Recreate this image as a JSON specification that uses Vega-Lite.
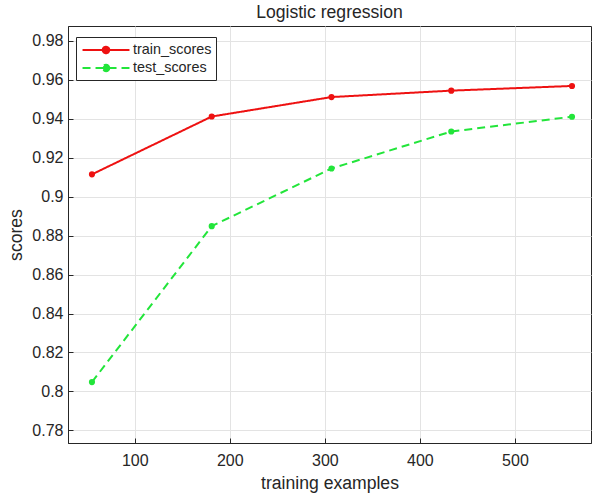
{
  "$schema": "https://vega.github.io/schema/vega-lite/v6.json",
  "autosize": {"type": "none"},
  "padding": {"left": 68, "top": 26, "right": 2, "bottom": 52},
  "width": 523,
  "height": 417,
  "title": {"text": "Logistic regression", "fontSize": 17.6, "fontWeight": "normal", "font": "Liberation Sans", "color": "#262626", "offset": 4},
  "config": {
    "font": "Liberation Sans",
    "view": {"stroke": "#262626", "strokeWidth": 1},
    "axis": {
      "labelFont": "Liberation Sans", "labelFontSize": 16, "labelColor": "#262626",
      "titleFont": "Liberation Sans", "titleFontSize": 17.6, "titleFontWeight": "normal", "titleColor": "#262626",
      "domainColor": "#262626", "tickColor": "#262626", "gridColor": "#e3e3e3", "gridOpacity": 1
    }
  },
  "data": {"values": [
    {"n": 55, "score": 0.9115, "series": "train_scores"},
    {"n": 181, "score": 0.9412, "series": "train_scores"},
    {"n": 307, "score": 0.9512, "series": "train_scores"},
    {"n": 433, "score": 0.9545, "series": "train_scores"},
    {"n": 560, "score": 0.9569, "series": "train_scores"},
    {"n": 55, "score": 0.8048, "series": "test_scores"},
    {"n": 181, "score": 0.8849, "series": "test_scores"},
    {"n": 307, "score": 0.9145, "series": "test_scores"},
    {"n": 433, "score": 0.9335, "series": "test_scores"},
    {"n": 560, "score": 0.9411, "series": "test_scores"}
  ]},
  "layer": [
    {
      "mark": {"type": "line", "strokeWidth": 2, "point": {"filled": true, "size": 38}},
      "encoding": {
        "x": {"field": "n", "type": "quantitative", "title": "training examples",
          "scale": {"domain": [29.8, 580], "nice": false, "zero": false},
          "axis": {"values": [100, 200, 300, 400, 500], "tickSize": -5, "labelPadding": 14, "titlePadding": 6, "grid": true}},
        "y": {"field": "score", "type": "quantitative", "title": "scores",
          "scale": {"domain": [0.7735, 0.9877], "nice": false, "zero": false},
          "axis": {"values": [0.78, 0.8, 0.82, 0.84, 0.86, 0.88, 0.9, 0.92, 0.94, 0.96, 0.98], "format": ".2~f", "tickSize": -5, "labelPadding": 10, "titlePadding": 6, "grid": true}},
        "color": {"field": "series", "type": "nominal", "title": null,
          "scale": {"domain": ["train_scores", "test_scores"], "range": ["#ee1111", "#22e53a"]},
          "legend": {"orient": "none", "legendX": 8, "legendY": 11, "strokeColor": "#262626", "fillColor": "white",
            "padding": 4, "symbolType": "M-3,0H3M0.42,0A0.42,0.42 0 1,1 -0.42,0A0.42,0.42 0 1,1 0.42,0",
            "symbolSize": 245, "symbolOffset": 17, "symbolStrokeWidth": 2, "labelFontSize": 14.4, "labelFont": "Liberation Sans", "labelColor": "#262626",
            "rowPadding": 1, "labelOffset": 18, "cornerRadius": 0}},
        "strokeDash": {"field": "series", "type": "nominal", "title": null,
          "scale": {"domain": ["train_scores", "test_scores"], "range": [[1, 0], [8, 5]]}}
      }
    }
  ]
}
